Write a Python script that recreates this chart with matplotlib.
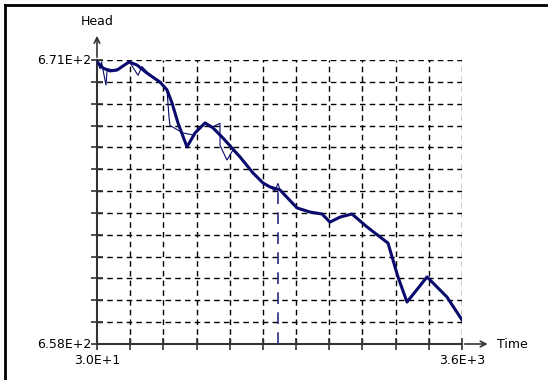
import matplotlib.pyplot as plt
from matplotlib.lines import Line2D
import numpy as np

# smoothed head curve
time_fit = [30, 89, 157, 226, 343, 421, 519, 646, 715, 764, 822, 910, 989,
            1086, 1165, 1262, 1429, 1556, 1654, 1722, 1820, 1986, 2113, 2231,
            2309, 2407, 2524, 2671, 2798, 2876, 2974, 3062, 3258, 3453, 3600]
head_fit = [670.91, 670.63, 670.50, 670.54, 670.91, 670.77, 670.40, 669.99,
            669.63, 669.03, 668.12, 667.02, 667.66, 668.12, 667.89, 667.43,
            666.56, 665.83, 665.37, 665.19, 665.05, 664.23, 664.04, 663.95,
            663.58, 663.81, 663.95, 663.36, 662.90, 662.62, 661.07, 659.92,
            661.07, 660.15, 659.10]

# observed head (raw)
time_obs = [30, 60, 75, 95, 118, 130, 180, 250, 343, 431, 470, 560, 650, 715,
            734, 744, 871, 969, 1086, 1165, 1233, 1233, 1301, 1360, 1429, 1556,
            1654, 1722, 1770, 1800, 1820, 1986, 2113, 2231, 2309, 2407, 2524,
            2671, 2798, 2876, 2974, 3062, 3258, 3453, 3600]
head_obs = [671.0, 670.6, 670.9, 670.4, 669.85, 670.6, 670.55, 670.6, 670.95,
            670.3, 670.7, 670.25, 670.0, 669.6, 668.4, 668.0, 667.66, 667.57,
            668.12, 667.95, 668.1, 667.1, 666.42, 666.88, 666.56, 665.83,
            665.37, 665.19, 665.0, 665.35, 665.05, 664.23, 664.04, 663.95,
            663.58, 663.81, 663.95, 663.36, 662.90, 662.62, 661.07, 659.92,
            661.07, 660.15, 659.10]

t_marker = 1800
x_min, x_max = 30, 3600
y_min, y_max = 658, 671
x_labels = ['3.0E+1', '3.6E+3']
y_labels = ['6.58E+2', '6.71E+2']

navy = '#0a0a6e'

fig = plt.figure(figsize=(5.48, 3.80), dpi=100)
ax = fig.add_axes([97 / 548, 36 / 380, 365 / 548, 284 / 380])
ax.set_xlim(x_min, x_max)
ax.set_ylim(y_min, y_max)

xt = np.linspace(x_min, x_max, 12)
yt = np.arange(y_min, y_max + 1)
for x in xt[1:]:
    ax.axvline(x, color='black', lw=1, ls=(0, (4, 3)), zorder=1)
for y in yt[1:]:
    ax.axhline(y, color='black', lw=1, ls=(0, (4, 3)), zorder=1)

ax.plot(time_obs, head_obs, color=navy, lw=0.8, zorder=3)
ax.plot(time_fit, head_fit, color=navy, lw=2.2, zorder=4)
ax.plot([t_marker, t_marker], [y_min, 665.2], color='#2a2a80', lw=1.2,
        ls=(0, (7, 5)), zorder=3)

for s in ['top', 'right']:
    ax.spines[s].set_visible(False)
for s in ['left', 'bottom']:
    ax.spines[s].set_color('#333333')
    ax.spines[s].set_linewidth(1.5)
ax.set_xticks(xt)
ax.set_yticks(yt)
ax.tick_params(direction='inout', length=9, width=1.2, color='#333333',
               labelleft=False, labelbottom=False)

# axis arrows and titles
ax.annotate('', xy=(0, 1.095), xytext=(0, 1.0), xycoords='axes fraction',
            arrowprops=dict(arrowstyle='->', color='#333333', lw=1.2))
ax.annotate('', xy=(1.078, 0), xytext=(1.0, 0), xycoords='axes fraction',
            arrowprops=dict(arrowstyle='->', color='#333333', lw=1.2))
ax.text(0.0, 1.113, 'Head', transform=ax.transAxes, ha='center',
        va='bottom', fontsize=9)
ax.text(1.097, 0, 'Time', transform=ax.transAxes, ha='left',
        va='center', fontsize=9)

ax.text(-0.015, 1.0, y_labels[1], transform=ax.transAxes, ha='right',
        va='center', fontsize=9)
ax.text(-0.015, 0.0, y_labels[0], transform=ax.transAxes, ha='right',
        va='center', fontsize=9)
ax.text(0.0, -0.035, x_labels[0], transform=ax.transAxes, ha='center',
        va='top', fontsize=9)
ax.text(1.0, -0.035, x_labels[1], transform=ax.transAxes, ha='center',
        va='top', fontsize=9)

# frame edges
fig.add_artist(Line2D([5 / 548, 1], [1 - 5 / 380] * 2, color='black', lw=2))
fig.add_artist(Line2D([5 / 548] * 2, [0, 1 - 5 / 380], color='black', lw=2))

fig.savefig('out.png', dpi=100)
